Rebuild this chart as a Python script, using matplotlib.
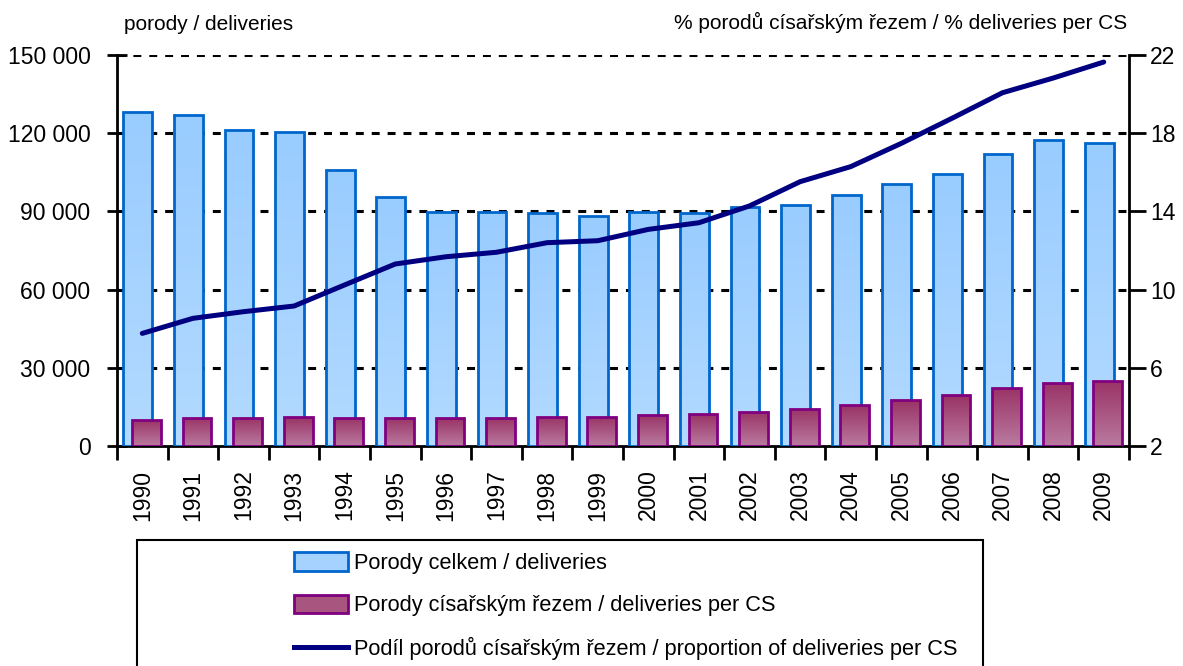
import numpy as np
import matplotlib
matplotlib.use("Agg")
import matplotlib.pyplot as plt
from matplotlib.patches import Rectangle
from matplotlib.lines import Line2D
from matplotlib.colors import LinearSegmentedColormap

years = [str(y) for y in range(1990, 2010)]
deliveries = [128250, 126980, 121230, 120460, 105880, 95400, 89650, 89650, 89390, 88350,
              89770, 89520, 91570, 92450, 96290, 100630, 104230, 112140, 117280, 116120]
cs_deliveries = [10000, 10850, 10900, 11100, 10850, 10850, 10550, 10820, 11200, 11200,
                 11970, 12250, 13080, 14330, 15650, 17480, 19500, 22380, 24350, 25090]
cs_share = [7.76, 8.53, 8.87, 9.16, 10.24, 11.31, 11.68, 11.91, 12.40, 12.50,
            13.08, 13.42, 14.28, 15.52, 16.29, 17.48, 18.76, 20.07, 20.82, 21.64]
left_ticks = [0, 30000, 60000, 90000, 120000, 150000]
right_ticks = [2, 6, 10, 14, 18, 22]

plt.rcParams['font.family'] = ['Liberation Sans', 'DejaVu Sans']

FS = 16.5
fig = plt.figure(figsize=(11.83, 6.66), dpi=100)
ax = fig.add_axes([117/1183, 1-446/666, (1129-117)/1183, (446-55)/666])
ax2 = ax.twinx()

x = np.arange(len(years))
w = 0.57
blue_cmap = LinearSegmentedColormap.from_list('b', ['#99CCFF', '#B3DAFF'])
purp_cmap = LinearSegmentedColormap.from_list('p', ['#993366', '#BA7A9F'])

ax.set_zorder(2)
ax2.set_zorder(1)
ax.patch.set_visible(False)

b1 = ax.bar(x - 0.09, deliveries, width=w, color='#A6D2FF', edgecolor='#0066CC', linewidth=2, zorder=3)
b2 = ax.bar(x + 0.08, cs_deliveries, width=w, color='#A8557F', edgecolor='#800080', linewidth=2, zorder=4)

grad = np.linspace(0, 1, 64).reshape(-1, 1)
for bars, cmap, z in ((b1, blue_cmap, 3.1), (b2, purp_cmap, 4.1)):
    for r in bars:
        x0, y0 = r.get_x(), r.get_y()
        im = ax.imshow(grad, cmap=cmap, aspect='auto', origin='upper',
                       extent=[x0, x0 + r.get_width(), y0, y0 + r.get_height()], zorder=z)
        im.set_clip_path(r)
        r.set_facecolor('none')
        r.set_zorder(z + 0.05)

ax.set_xlim(-0.5, len(years) - 0.5)
ax.set_ylim(0, 150000)
ax.set_yticks(left_ticks)
ax.set_yticklabels([f"{v:,}".replace(',', ' ') for v in left_ticks], fontsize=FS)
for v in left_ticks[1:]:
    ax.axhline(v, color='black', linestyle=(0, (2.6, 2.6)), linewidth=2.2, zorder=1)

ax.set_xticks(x)
ax.set_xticklabels(years, rotation=90, fontsize=FS)
ax.tick_params(axis='x', length=0, pad=17)
ax.set_xticks(np.arange(-0.5, len(years)), minor=True)
ax.tick_params(axis='x', which='minor', length=10, width=2, direction='out')
ax.tick_params(axis='y', length=14, width=2, direction='inout', pad=12)

ax2.set_ylim(2, 22)
ax.plot(x, cs_share, color='#000080', linewidth=3.6, solid_capstyle='round', zorder=6,
        transform=ax2.transData)
ax2.set_yticks(right_ticks)
ax2.set_yticklabels([str(v) for v in right_ticks], fontsize=FS)
ax2.tick_params(axis='y', length=12, width=2, direction='out', pad=3)

for a in (ax, ax2):
    a.spines['top'].set_visible(False)
    for s in ('left', 'right', 'bottom'):
        a.spines[s].set_linewidth(2)
ax.spines['right'].set_visible(False)
ax2.spines['left'].set_visible(False)
ax2.spines['bottom'].set_visible(False)

fig.text(124/1183, 1-25/666, 'porody / deliveries', fontsize=15, ha='left', va='center')
fig.text(1127/1183, 1-22/666, '% porodů císařským řezem / % deliveries per CS', fontsize=15,
         ha='right', va='center')

# legend box
fig.patches.append(Rectangle((137/1183, -0.05), (983-137)/1183, 0.05 + (666-540)/666,
                             transform=fig.transFigure, fill=False, edgecolor='black',
                             linewidth=1.5))
handles = [Rectangle((0, 0), 1, 1, facecolor='#A6D2FF', edgecolor='#0066CC', linewidth=2),
           Rectangle((0, 0), 1, 1, facecolor='#A8557F', edgecolor='#800080', linewidth=2),
           Line2D([0], [0], color='#000080', linewidth=3.6)]
labels = ['Porody celkem / deliveries',
          'Porody císařským řezem / deliveries per CS',
          'Podíl porodů císařským řezem / proportion of deliveries per CS']
fig.legend(handles, labels, loc='upper left', bbox_to_anchor=(283/1183, 1-541/666),
           frameon=False, fontsize=15.7, handlelength=2.5, handleheight=0.95,
           handletextpad=0.25, labelspacing=0.95, borderaxespad=0, borderpad=0.5)

fig.savefig('out.png', dpi=100)
